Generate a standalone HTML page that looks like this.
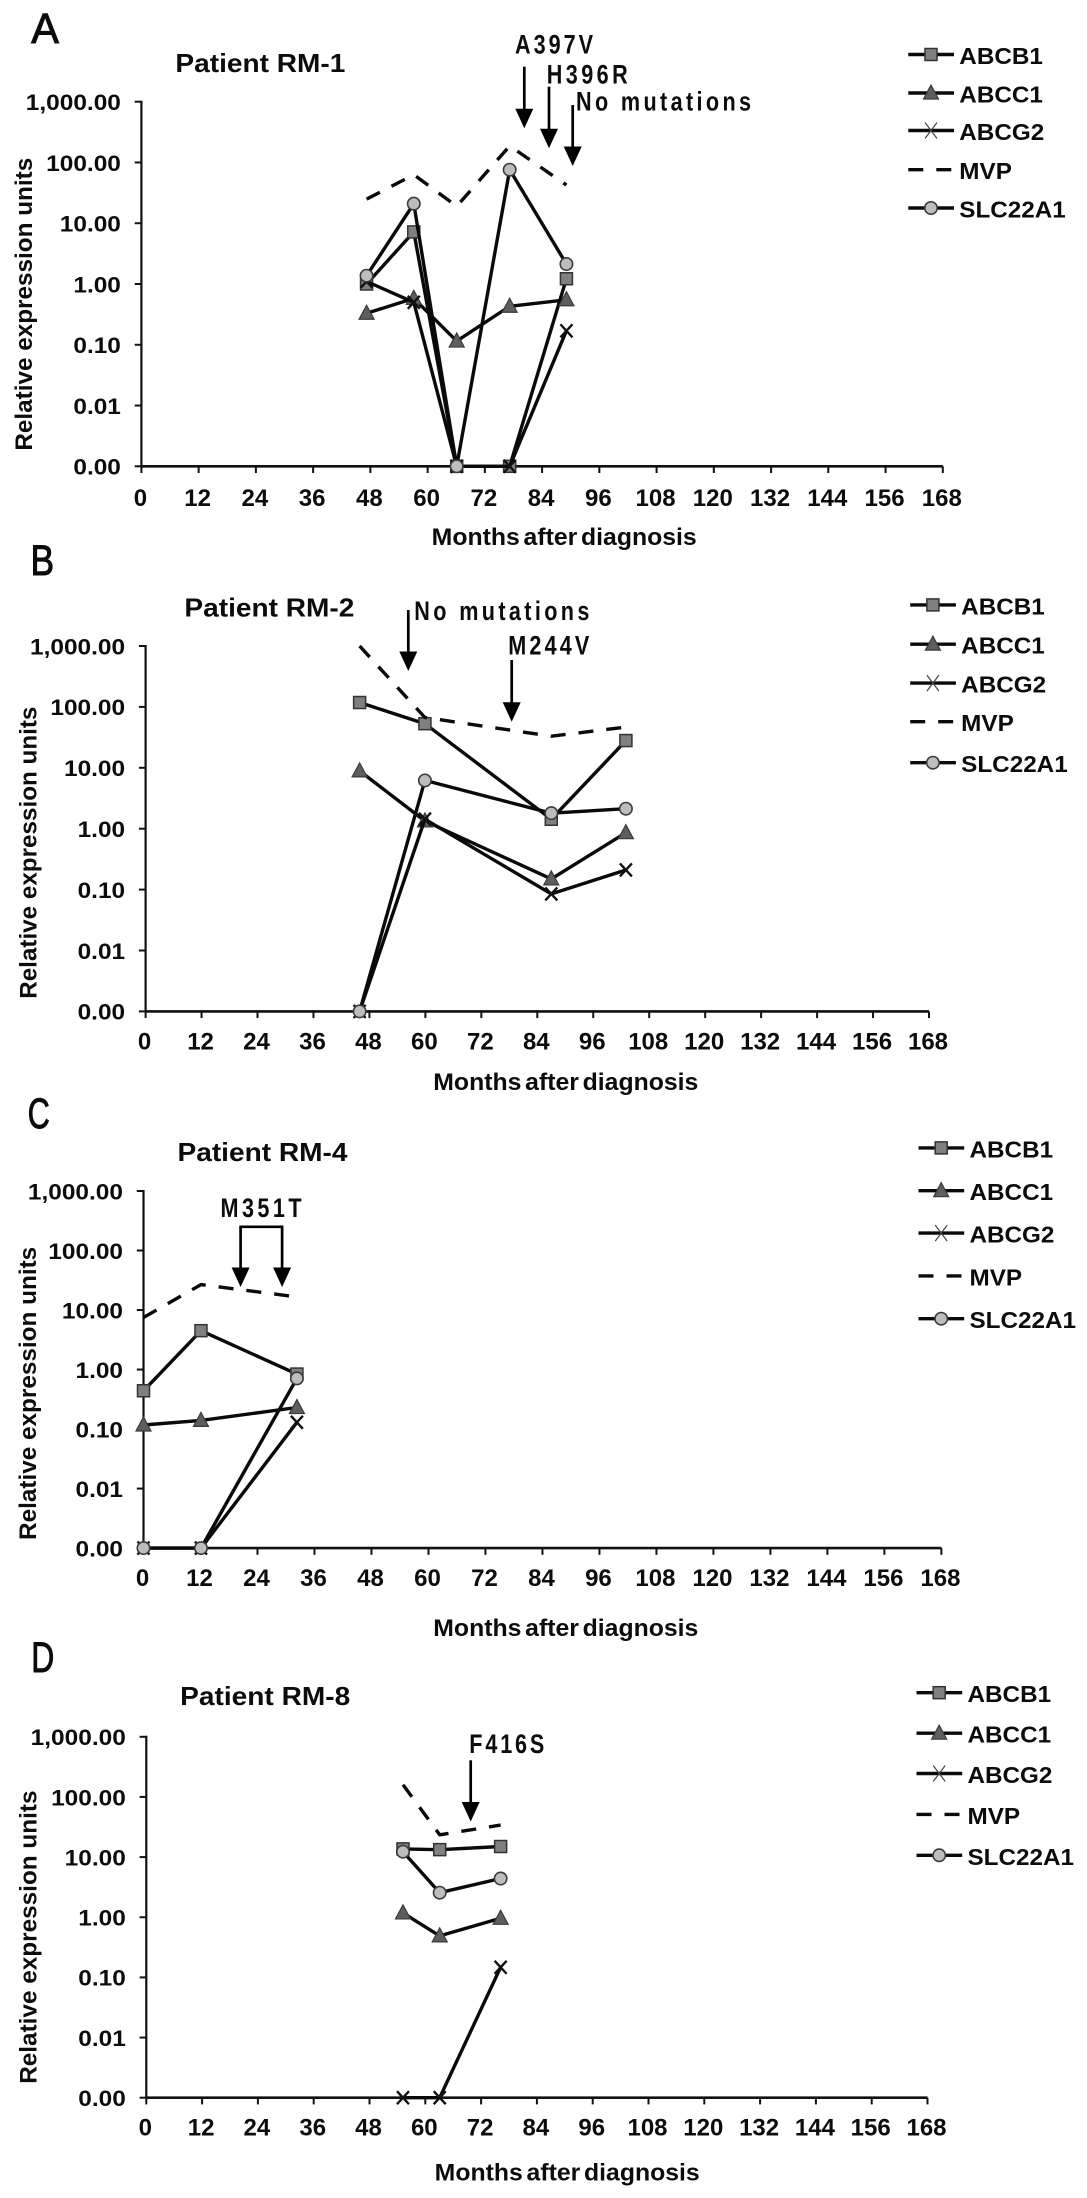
<!DOCTYPE html>
<html lang="en">
<head>
<meta charset="utf-8">
<title>Relative expression units by patient</title>
<style>
html,body{margin:0;padding:0;background:#fff;}
svg{display:block;filter:blur(0.35px);}
text{font-family:"Liberation Sans",sans-serif;font-weight:bold;fill:#0c0c0c;}
</style>
</head>
<body>
<svg id="figure" xmlns="http://www.w3.org/2000/svg" width="1087" height="2198" viewBox="0 0 1087 2198"></svg>
<script>
// ---- Shared axis data ----
const monthTicks = [0, 12, 24, 36, 48, 60, 72, 84, 96, 108, 120, 132, 144, 156, 168];
const valueTicks = [1000, 100, 10, 1, 0.1, 0.01, 0.001];
const valueTickLabels = ["1,000.00", "100.00", "10.00", "1.00", "0.10", "0.01", "0.00"];
const seriesNames = ["ABCB1", "ABCC1", "ABCG2", "MVP", "SLC22A1"];

// ---- Patient RM-1 ----
const rm1Months = [47.2, 57.1, 66.1, 77.2, 89.1];
const rm1Abcb1 = [1.0, 7.2, 0.001, 0.001, 1.22];
const rm1Abcc1 = [0.33, 0.58, 0.115, 0.43, 0.55];
const rm1Abcg2 = [1.1, 0.5, 0.001, 0.001, 0.17];
const rm1Mvp = [25, 63, 19, 187, 42.5];
const rm1Slc = [1.37, 21, 0.001, 76, 2.13];

// ---- Patient RM-2 ----
const rm2Months = [45.9, 59.9, 87, 103];
const rm2Abcb1 = [118, 53, 1.43, 28];
const rm2Abcc1 = [8.9, 1.34, 0.15, 0.86];
const rm2Abcg2 = [0.001, 1.43, 0.085, 0.21];
const rm2Mvp = [1000, 67, 33, 46.6];
const rm2Slc = [0.001, 6.2, 1.8, 2.13];

// ---- Patient RM-4 ----
const rm4Months = [0, 12.1, 32.3];
const rm4Abcb1 = [0.44, 4.5, 0.84];
const rm4Abcc1 = [0.117, 0.14, 0.23];
const rm4Abcg2 = [0.001, 0.001, 0.13];
const rm4Mvp = [7.5, 26.7, 16.6];
const rm4Slc = [0.001, 0.001, 0.71];

// ---- Patient RM-8 ----
const rm8Months = [55.2, 63.1, 76.2];
const rm8Abcb1 = [13.7, 13.3, 15];
const rm8Abcc1 = [1.18, 0.49, 0.96];
const rm8Abcg2 = [0.001, 0.001, 0.147];
const rm8Mvp = [160, 23.5, 34];
const rm8Slc = [12.3, 2.56, 4.4];

const NS = "http://www.w3.org/2000/svg";
const fig = document.getElementById("figure");

function mk(parent, tag, attrs) {
  const el = document.createElementNS(NS, tag);
  for (const k in attrs) el.setAttribute(k, attrs[k]);
  parent.appendChild(el);
  return el;
}
function label(parent, str, x, y, size, anchor, fitLength, adjust) {
  const el = mk(parent, "text", {x: x, y: y, "font-size": size, "text-anchor": anchor || "start"});
  el.textContent = str;
  if (fitLength) {
    el.setAttribute("textLength", fitLength);
    el.setAttribute("lengthAdjust", adjust || "spacingAndGlyphs");
  }
  return el;
}
function stretched(parent, str, x, y, size, anchor, factor) {
  const el = label(parent, str, x, y, size, anchor);
  const natural = el.getComputedTextLength();
  el.setAttribute("textLength", (natural * factor).toFixed(1));
  el.setAttribute("lengthAdjust", "spacingAndGlyphs");
  return el;
}
function slug(name) { return name.toLowerCase(); }

function drawMarker(parent, kind, cx, cy, name) {
  const g = mk(parent, "g", {});
  
  
  if (kind === "ABCB1") {
    mk(g, "rect", {x: cx - 6, y: cy - 6, width: 12, height: 12, fill: "#808080", stroke: "#333", "stroke-width": 1.5});
  } else if (kind === "ABCC1") {
    mk(g, "polygon", {points: [cx, cy - 8, cx + 7.5, cy + 6, cx - 7.5, cy + 6].join(" "), fill: "#5e5e5e", stroke: "#3a3a3a", "stroke-width": 1.2});
  } else if (kind === "ABCG2") {
    mk(g, "path", {d: "M" + (cx - 6) + " " + (cy - 6.5) + "L" + (cx + 6) + " " + (cy + 6.5) + "M" + (cx + 6) + " " + (cy - 6.5) + "L" + (cx - 6) + " " + (cy + 6.5), stroke: "#111", "stroke-width": 2.4, fill: "none"});
  } else if (kind === "SLC22A1") {
    mk(g, "circle", {cx: cx, cy: cy, r: 6.2, fill: "#bdbdbd", stroke: "#3a3a3a", "stroke-width": 1.6});
  }
}

function drawArrow(parent, x, y1, y2, name) {
  const g = mk(parent, "g", {});
  
  
  mk(g, "line", {x1: x, y1: y1, x2: x, y2: y2 - 10, stroke: "#000", "stroke-width": 2.7});
  mk(g, "polygon", {points: [x - 9, y2 - 19.5, x + 9, y2 - 19.5, x, y2].join(" "), fill: "#000"});
}

function drawPanel(p) {
  const g = mk(fig, "g", {});
  
  

  const xScale = m => p.left + m * (p.right - p.left) / 168;
  const yScale = v => p.top + (3 - Math.log10(v)) * (p.bottom - p.top) / 6;

  const letter = label(g, p.letter, p.letterX, p.letterY, 43, "start", p.letterW);
  letter.setAttribute("style", "font-weight:normal;stroke:#0c0c0c;stroke-width:1");
  
  

  const title = label(g, p.title, p.titleX, p.titleY, 26, "start", 170);
  
  

  // y axis
  const yAxis = mk(g, "line", {x1: p.left, y1: p.top - 1, x2: p.left, y2: p.bottom, stroke: "#111", "stroke-width": 2.2});
  
  
  valueTicks.forEach((v, i) => {
    const y = yScale(v);
    const t = mk(g, "line", {x1: p.left - 6.7, y1: y, x2: p.left, y2: y, stroke: "#111", "stroke-width": 2});
    
    
    const l = stretched(g, valueTickLabels[i], p.left - 20.5, y + 8.3, 22, "end", 1.11);
    
    
  });

  // x axis
  const xAxis = mk(g, "line", {x1: p.left, y1: p.bottom, x2: p.right, y2: p.bottom, stroke: "#111", "stroke-width": 2.6});
  
  
  monthTicks.forEach(m => {
    const x = xScale(m);
    const t = mk(g, "line", {x1: x, y1: p.bottom, x2: x, y2: p.bottom + 6.7, stroke: "#111", "stroke-width": 2});
    
    
    const l = label(g, String(m), x - 1, p.xLabelY, 24, "middle");
    
    
  });

  const xTitle = label(g, "Months after diagnosis", p.xTitleX, p.xTitleY, 24, "start", 265);
  xTitle.setAttribute("style", "word-spacing:-3px");
  
  

  const yMid = (p.yTitleA + p.yTitleB) / 2;
  const yTitle = label(g, "Relative expression units", 0, 0, 24, "middle", p.yTitleB - p.yTitleA);
  yTitle.setAttribute("transform", "translate(" + p.yTitleX + " " + yMid + ") rotate(-90)");
  
  

  // series
  p.series.forEach((values, si) => {
    const name = seriesNames[si];
    const sg = mk(g, "g", {});
    
    
    const pts = values.map((v, i) => xScale(p.months[i]).toFixed(1) + "," + yScale(v).toFixed(1)).join(" ");
    const line = mk(sg, "polyline", {points: pts, fill: "none", stroke: "#0a0a0a", "stroke-width": 3.4, "stroke-linejoin": "round"});
    if (name === "MVP") line.setAttribute("stroke-dasharray", "15 13");
    
    
    values.forEach((v, i) => drawMarker(sg, name, xScale(p.months[i]), yScale(v), slug(name)));
  });

  // legend
  const lg = mk(g, "g", {});
  
  
  seriesNames.forEach((name, i) => {
    const y = p.legendRows[i];
    const e = mk(lg, "g", {});
    
    
    const line = mk(e, "line", {x1: p.legendX, y1: y, x2: p.legendX + 45.7, y2: y, stroke: "#0a0a0a", "stroke-width": 3.4});
    
    
    if (name === "MVP") {
      line.setAttribute("stroke-dasharray", "15 13");
    } else if (name === "ABCG2") {
      mk(e, "path", {d: "M" + (p.legendX + 16.7) + " " + (y - 8) + "L" + (p.legendX + 28.7) + " " + (y + 8) + "M" + (p.legendX + 28.7) + " " + (y - 8) + "L" + (p.legendX + 16.7) + " " + (y + 8), stroke: "#444", "stroke-width": 1.2, fill: "none"});
    } else {
      drawMarker(e, name, p.legendX + 22.7, y, slug(name));
    }
    const t = stretched(e, name, p.legendX + 51, y + 9.5, 23, "start", 1.055);
    
    
  });

  // mutation annotations: tall condensed glyphs with open letter spacing
  const condense = 0.8;
  p.notes.forEach(n => {
    const t = label(g, n.text, 0, 0, 27, "start", (n.w / condense).toFixed(1), "spacing");
    t.setAttribute("transform", "translate(" + n.x + " " + n.y + ") scale(" + condense + " 1)");
    
    
  });
  p.arrows.forEach(a => drawArrow(g, a.x, a.from, a.to, "mutation-arrow"));
  if (p.bracket) {
    const b = mk(g, "path", {d: p.bracket, fill: "none", stroke: "#000", "stroke-width": 2.7});
    
    
  }
}

drawPanel({
  slug: "rm-1", letter: "A", letterX: 31.2, letterY: 43, letterW: 27.7, title: "Patient RM-1", titleX: 175.4, titleY: 72,
  left: 141.4, right: 942.8, top: 101.7, bottom: 466.3, xLabelY: 506, xTitleX: 431.7, xTitleY: 545,
  yTitleX: 32, yTitleA: 157.8, yTitleB: 450.7,
  months: rm1Months, series: [rm1Abcb1, rm1Abcc1, rm1Abcg2, rm1Mvp, rm1Slc],
  legendX: 908.3, legendRows: [54.5, 93, 130.5, 169.7, 208],
  notes: [
    {text: "A397V", x: 515, y: 53.3, w: 78},
    {text: "H396R", x: 546.7, y: 83.3, w: 81},
    {text: "No mutations", x: 576, y: 110.7, w: 175}
  ],
  arrows: [{x: 524.3, from: 66.7, to: 128.3}, {x: 549, from: 86.7, to: 148.3}, {x: 572.7, from: 105, to: 166}]
});

drawPanel({
  slug: "rm-2", letter: "B", letterX: 30.5, letterY: 575, letterW: 23.6, title: "Patient RM-2", titleX: 184.4, titleY: 616.5,
  left: 145.6, right: 929, top: 646, bottom: 1011.4, xLabelY: 1049.6, xTitleX: 433.3, xTitleY: 1090,
  yTitleX: 36.7, yTitleA: 706.6, yTitleB: 998.8,
  months: rm2Months, series: [rm2Abcb1, rm2Abcc1, rm2Abcg2, rm2Mvp, rm2Slc],
  legendX: 910.2, legendRows: [604.9, 644.2, 683.1, 721.7, 762.7],
  notes: [
    {text: "No mutations", x: 414.3, y: 620, w: 175},
    {text: "M244V", x: 508.3, y: 654.3, w: 81}
  ],
  arrows: [{x: 408.3, from: 610, to: 671}, {x: 511.7, from: 660, to: 721.7}]
});

drawPanel({
  slug: "rm-4", letter: "C", letterX: 27.7, letterY: 1128, letterW: 22, title: "Patient RM-4", titleX: 177.5, titleY: 1161,
  left: 143.5, right: 941.4, top: 1191, bottom: 1548.1, xLabelY: 1586, xTitleX: 433.3, xTitleY: 1636,
  yTitleX: 36, yTitleA: 1246.8, yTitleB: 1540,
  months: rm4Months, series: [rm4Abcb1, rm4Abcc1, rm4Abcg2, rm4Mvp, rm4Slc],
  legendX: 918.5, legendRows: [1147.9, 1190.7, 1233.1, 1275.9, 1318.7],
  notes: [{text: "M351T", x: 220.5, y: 1217, w: 81}],
  arrows: [{x: 240.6, from: 1227, to: 1287}, {x: 282.1, from: 1227, to: 1287}],
  bracket: "M239.3 1226.8H283.4"
});

drawPanel({
  slug: "rm-8", letter: "D", letterX: 31.2, letterY: 1672, letterW: 23, title: "Patient RM-8", titleX: 180.2, titleY: 1705,
  left: 146.3, right: 927.5, top: 1736.8, bottom: 2097.7, xLabelY: 2135.3, xTitleX: 434.7, xTitleY: 2180.3,
  yTitleX: 36.7, yTitleA: 1790.5, yTitleB: 2083.8,
  months: rm8Months, series: [rm8Abcb1, rm8Abcc1, rm8Abcg2, rm8Mvp, rm8Slc],
  legendX: 916.5, legendRows: [1692.7, 1733.2, 1773.5, 1814.4, 1855.3],
  notes: [{text: "F416S", x: 469.3, y: 1752.8, w: 75}],
  arrows: [{x: 470.7, from: 1760.3, to: 1821.5}]
});
</script>
</body>
</html>
